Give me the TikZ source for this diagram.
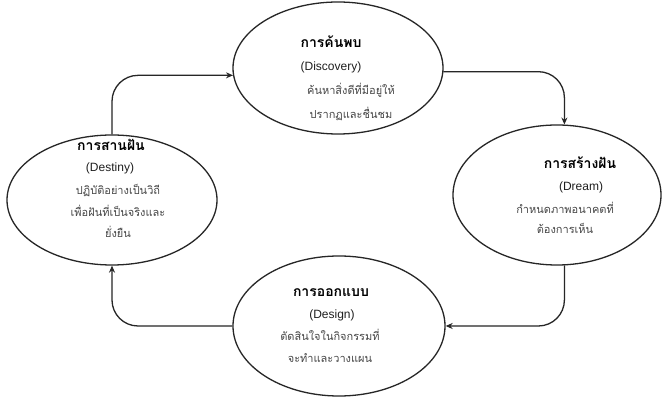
\documentclass[tikz,border=0pt]{standalone}
\usepackage{fontspec}
\setmainfont{Liberation Sans}
\newfontfamily\thai[Script=Thai]{Loma}
\usetikzlibrary{arrows.meta,shapes.geometric}
\begin{document}
\begin{tikzpicture}[x=1pt,y=1pt,
  oval/.style={draw=black!85, line width=1.3pt, ellipse, inner sep=0pt},
  link/.style={draw=black!85, line width=1.3pt, rounded corners=26pt, -{Stealth[length=7pt,width=6pt]}},
  ttl/.style={font=\thai\bfseries\fontsize{14}{16}\selectfont, text=black, inner sep=0pt},
  eng/.style={font=\fontsize{12}{14}\selectfont, text=black!88, inner sep=0pt},
  dsc/.style={font=\thai\fontsize{11}{22}\selectfont, text=black!72, align=center, inner sep=0pt}
]
\fill[white] (0,0) rectangle (664,398);
\useasboundingbox (0,0) rectangle (664,398);

% ellipses
\node[oval, minimum width=210pt, minimum height=132pt] (disc) at (338,330) {};
\node[oval, minimum width=208pt, minimum height=140pt] (dream) at (557,203) {};
\node[oval, minimum width=212pt, minimum height=140pt] (design) at (339,72) {};
\node[oval, minimum width=210pt, minimum height=130pt] (dest) at (112,198) {};

% Discovery text
\node[ttl] (disct) at (331,356) {การค้นพบ};
\node[eng] (disce) at (331,331) {(Discovery)};
\node[dsc, font=\thai\fontsize{11}{24}\selectfont] (discd) at (351,296) {ค้นหาสิ่งดีที่มีอยู่ให้\\ปรากฏและชื่นชม};

% Dream text
\node[ttl] (dreamt) at (580,235) {การสร้างฝัน};
\node[eng] (dreame) at (581,211) {(Dream)};
\node[dsc, font=\thai\fontsize{11}{20}\selectfont] (dreamd) at (565,180) {กำหนดภาพอนาคตที่\\ต้องการเห็น};

% Design text
\node[ttl] (designt) at (331,105) {การออกแบบ};
\node[eng] (designe) at (332,83) {(Design)};
\node[dsc] (designd) at (330,52) {ตัดสินใจในกิจกรรมที่\\จะทำและวางแผน};

% Destiny text
\node[ttl] (destt) at (111,253) {การสานฝัน};
\node[eng] (deste) at (110,230) {(Destiny)};
\node[dsc, font=\thai\fontsize{11}{21.5}\selectfont] (destd) at (118,187) {ปฏิบัติอย่างเป็นวิถี\\เพื่อฝันที่เป็นจริงและ\\ยั่งยืน};

% connectors
\draw[link] (dest.north) |- (disc.184);
\draw[link] (disc.-2) -| (dream.84);
\draw[link] (dream.-84) |- (design.east);
\draw[link] (design.west) -| (dest.south);
\end{tikzpicture}
\end{document}
